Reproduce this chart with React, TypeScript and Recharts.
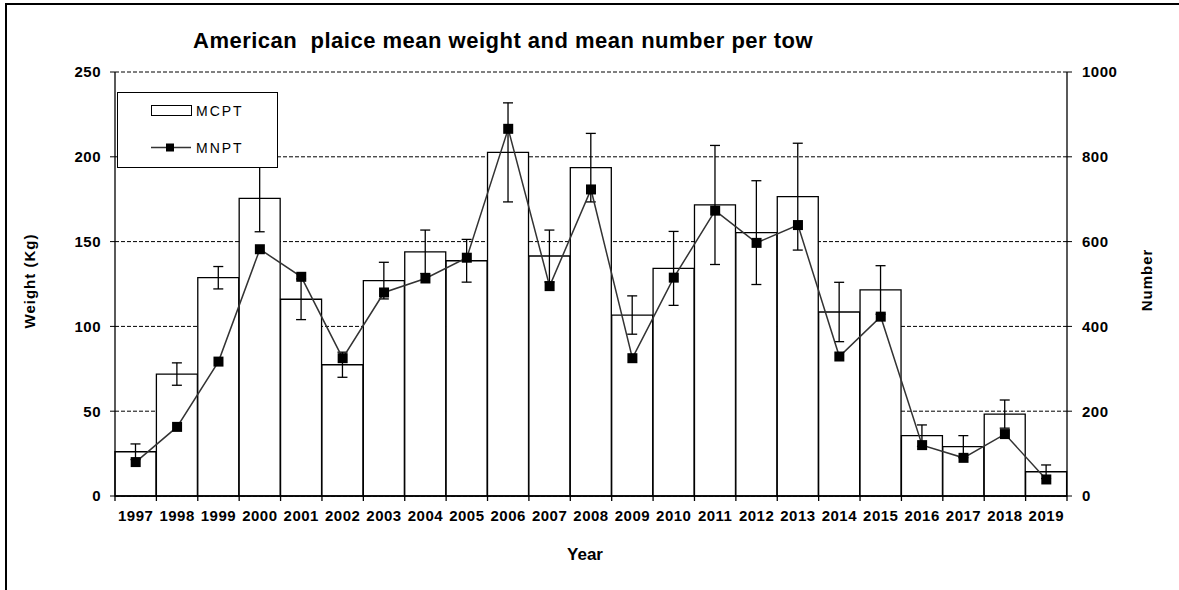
import { ComposedChart, Bar, Line, XAxis, YAxis, CartesianGrid, ErrorBar, Legend } from 'recharts';

const years = ['1997', '1998', '1999', '2000', '2001', '2002', '2003', '2004', '2005', '2006', '2007', '2008',
  '2009', '2010', '2011', '2012', '2013', '2014', '2015', '2016', '2017', '2018', '2019'];
// mean weight per tow (Kg), left axis
const mcpt = [26.1, 71.9, 128.7, 175.5, 116.0, 77.4, 127.0, 144.0, 138.7, 202.6, 141.5, 193.6,
  106.7, 134.2, 171.6, 155.3, 176.5, 108.5, 121.5, 35.6, 29.1, 48.3, 14.3];
const mcptErr = [4.6, 6.6, 6.6, 19.7, 12.0, 7.4, 10.8, 12.8, 12.6, 29.2, 15.3, 20.2,
  11.3, 21.8, 35.1, 30.6, 31.5, 17.5, 14.3, 6.3, 6.5, 8.3, 4.0];
// mean number per tow, right axis
const mnpt = [80, 163, 317, 582, 517, 325, 480, 513, 562, 866, 495, 723,
  325, 515, 673, 597, 639, 329, 423, 120, 90, 146, 39];
const leftTicks = [0, 50, 100, 150, 200, 250];
const rightTicks = [0, 200, 400, 600, 800, 1000];

const data = years.map((year, i) => ({ year, mcpt: mcpt[i], err: mcptErr[i], mnpt: mnpt[i] }));

const font = '"Liberation Sans", Arial, sans-serif';
const tickStyle = { fontSize: 15, fontWeight: 700, fill: '#000', fontFamily: font, letterSpacing: 0.5 };

function YearTick(props: any) {
  const { x, y, payload, index } = props;
  const half = payload?.offset || 20.7;
  return (
    <g>
      <line x1={x - half} x2={x - half} y1={y - 5} y2={y} stroke="#000" strokeWidth={1.3} />
      {index === years.length - 1 && (
        <line x1={x + half} x2={x + half} y1={y - 5} y2={y} stroke="#000" strokeWidth={1.3} />
      )}
      <text x={x} y={y + 20} textAnchor="middle" {...tickStyle}>{payload.value}</text>
    </g>
  );
}

function renderSquare(props: any) {
  const { cx, cy, index } = props;
  if (cx == null || cy == null) return <g key={index} />;
  return <rect key={index} x={cx - 5} y={cy - 5} width={10} height={10} fill="#000" />;
}

function LegendBox() {
  const txt = { fontSize: 14, fill: '#000', fontFamily: font, letterSpacing: 2 };
  return (
    <div style={{ width: 161, height: 76, border: '1px solid #000', background: '#fff', boxSizing: 'border-box' }}>
      <svg width={159} height={74} style={{ display: 'block' }}>
        <rect x={33.5} y={12.5} width={40} height={10} fill="#fff" stroke="#000" />
        <text x={78} y={22.5} {...txt}>MCPT</text>
        <line x1={33} x2={73} y1={54.5} y2={54.5} stroke="#333" strokeWidth={1.5} />
        <rect x={48} y={50.5} width={8} height={8} fill="#000" />
        <text x={78} y={59.5} {...txt}>MNPT</text>
      </svg>
    </div>
  );
}

export default function App() {
  return (
    <div style={{ position: 'absolute', left: 0, top: 0, width: 1179, height: 590, background: '#fff', fontFamily: font, overflow: 'hidden' }}>
      <div style={{ position: 'absolute', left: 5, top: 3, width: 1300, height: 700, borderTop: '2px solid #000', borderLeft: '2px solid #000' }} />
      <div style={{ position: 'absolute', left: 193, top: 30, fontSize: 22, lineHeight: '22px', fontWeight: 700, letterSpacing: 0.5, whiteSpace: 'pre', color: '#000' }}>
        American  plaice mean weight and mean number per tow
      </div>
      <ComposedChart width={1179} height={590} data={data} margin={{ top: 72, right: 52, left: 55, bottom: 64 }} barCategoryGap={0}>
        <CartesianGrid yAxisId="left" vertical={false} stroke="#000" strokeDasharray="4 2" />
        <XAxis dataKey="year" height={30} tickLine={false} tickSize={5} tickMargin={0} interval={0}
          axisLine={{ stroke: '#000', strokeWidth: 1.3 }} tick={<YearTick />} />
        <YAxis yAxisId="left" domain={[0, 250]} ticks={leftTicks} width={60} tickSize={5} tickMargin={9}
          axisLine={{ stroke: '#000', strokeWidth: 1.3 }} tickLine={{ stroke: '#000' }} tick={tickStyle} />
        <YAxis yAxisId="right" orientation="right" domain={[0, 1000]} ticks={rightTicks} width={60} tickSize={5} tickMargin={10}
          axisLine={{ stroke: '#000', strokeWidth: 1.3 }} tickLine={{ stroke: '#000' }} tick={{ ...tickStyle, textAnchor: 'start' }} />
        <Legend layout="horizontal" verticalAlign="middle" align="center" content={<LegendBox />}
          wrapperStyle={{ left: 117, top: 92, width: 161, height: 76 }} />
        <Bar yAxisId="left" dataKey="mcpt" name="MCPT" fill="#fff" stroke="#000" strokeWidth={1.3} isAnimationActive={false}>
          <ErrorBar dataKey="err" width={5} stroke="#000" strokeWidth={1.3} direction="y" />
        </Bar>
        <Line yAxisId="right" dataKey="mnpt" name="MNPT" stroke="#333" strokeWidth={1.5} dot={renderSquare}
          activeDot={false} isAnimationActive={false} />
      </ComposedChart>
      <div style={{ position: 'absolute', left: 29, top: 281, transform: 'translate(-50%, -50%) rotate(-90deg)', fontSize: 15, fontWeight: 700, letterSpacing: 1, whiteSpace: 'nowrap' }}>
        Weight (Kg)
      </div>
      <div style={{ position: 'absolute', left: 1146, top: 280, transform: 'translate(-50%, -50%) rotate(-90deg)', fontSize: 15, fontWeight: 700, letterSpacing: 1, whiteSpace: 'nowrap' }}>
        Number
      </div>
      <div style={{ position: 'absolute', left: 585, top: 555, transform: 'translate(-50%, -50%)', fontSize: 17, fontWeight: 700, whiteSpace: 'nowrap' }}>
        Year
      </div>
    </div>
  );
}
